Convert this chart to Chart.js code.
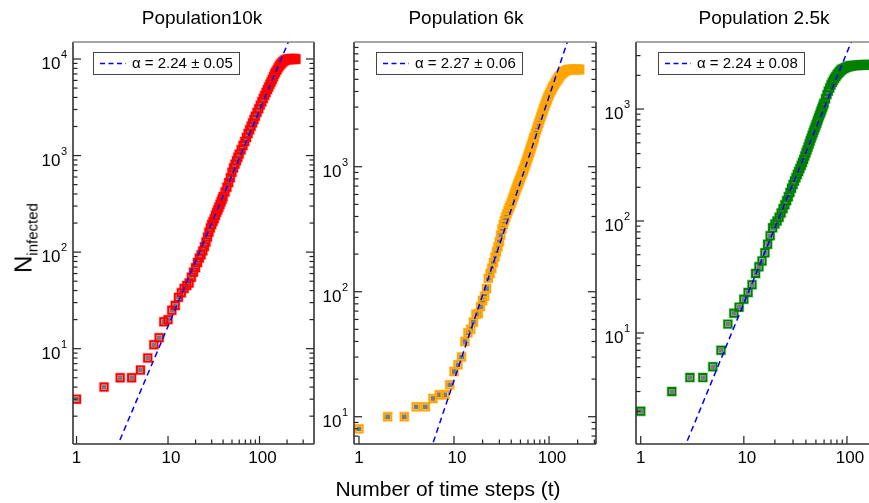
<!DOCTYPE html>
<html>
<head>
<meta charset="utf-8">
<script src="https://cdn.jsdelivr.net/npm/chart.js@4.4.1/dist/chart.umd.min.js"></script>
<style>
  body { margin: 0; width: 869px; height: 503px; overflow: hidden; background: #fff; position: relative;
         font-family: "Liberation Sans", Arial, sans-serif; color: #000; }
  canvas { position: absolute; top: 0; }
  .ttl { position: absolute; top: 8px; font-size: 19px; line-height: 19px; white-space: nowrap; transform: translateX(-50%); }
  .xlab { position: absolute; top: 478px; left: 448px; font-size: 21px; line-height: 21px; white-space: nowrap; transform: translateX(-50%); }
  .ylab { position: absolute; left: 25px; top: 238px; font-size: 24px; white-space: nowrap;
          transform: translate(-50%, -50%) rotate(-90deg); }
  .ylab sub { font-size: 15px; vertical-align: -6px; }
</style>
</head>
<body>
<canvas id="c10k" width="330" height="503" style="left:0px"></canvas>
<canvas id="c6k" width="310" height="503" style="left:310px"></canvas>
<canvas id="c2k5" width="300" height="503" style="left:590px"></canvas>
<div class="ttl" style="left:202px">Population10k</div>
<div class="ttl" style="left:466px">Population 6k</div>
<div class="ttl" style="left:764px">Population 2.5k</div>
<div class="xlab">Number of time steps (t)</div>
<div class="ylab">N<sub>infected</sub></div>
<script>
// Population 10k
const t10k = [1,2,3,4,5,6,7,8,9,10,11,12,13,14,15,16,17,18,19,20,21,22,23,24,25,26,27,28,29,30,31,32,33,34,35,36,37,38,39,40,
  42,44,46,48,50,52,54,56,58,60,63,66,69,72,75,78,81,84,87,90,
  94,98,102,106,110,114,118,122,126,130,134,138,142,146,150,
  155,160,165,170,175,180,185,190,195,200,205,210,215,220,225,230,235,240,245,250];
const n10k = [3,4,5,5,6,8,11,13,19,20,25,28,34,38,42,45,48,55,62,69,78,87,94,103,114,127,143,161,178,193,207,222,240,258,275,292,312,332,354,376,
  420,470,525,590,670,745,815,885,960,1035,1150,1270,1400,1540,1690,1850,2010,2180,2360,2550,
  2800,3060,3330,3610,3900,4200,4500,4820,5140,5470,5800,6150,6550,6950,7300,
  7700,8100,8500,8820,9100,9350,9560,9720,9840,9910,9950,9975,9990,10000,10000,10000,10000,10000,10000,10000];
const fitT10k = [2.7, 210];
const fitN10k = [0.91, 15560];

// Population 6k
const t6k = [1,2,3,4,5,6,7,8,9,10,11,12,13,14,15,16,17,18,19,20,21,22,23,24,25,26,27,28,29,30,31,32,33,34,35,36,37,38,39,40,
  41,42,43,44,45,46,47,48,49,50,51,52,53,54,55,56,57,58,59,60,61,62,63,64,65,66,67,68,69,70,
  72,74,76,78,80,82,84,86,88,90,92,94,96,98,100,
  103,106,109,112,115,118,121,124,127,130,
  135,140,145,150,155,160,165,170,175,180,185,190,195,200,205,210];
const n6k = [8,10,10,12,12,14,15,15,18,23,26,30,40,47,50,57,66,67,76,85,92,106,128,140,154,171,190,209,229,251,284,318,345,370,395,420,445,468,490,512,
  540,568,597,627,658,690,720,750,780,812,845,880,915,950,988,1027,1067,1108,1150,1195,1240,1290,1340,1390,1445,1500,1555,1610,1670,1730,
  1850,1975,2100,2230,2360,2500,2640,2780,2920,3060,3200,3340,3480,3620,3760,
  3950,4130,4300,4460,4620,4770,4920,5060,5200,5330,
  5500,5650,5780,5870,5930,5970,5990,6000,6000,6000,6000,6000,6000,6000,6000,6000];
const fitT6k = [5.6, 165];
const fitN6k = [5.24, 11330];

// Population 2.5k
const t2k5 = [1,2,3,4,5,6,7,8,9,10,11,12,13,14,15,16,17,18,19,20,21,22,23,24,25,26,27,28,29,30,31,32,33,34,35,36,37,38,39,40,
  41,42,43,44,45,46,47,48,49,50,51,52,53,54,55,56,57,58,59,60,
  62,64,66,68,70,72,74,76,78,80,82,84,86,88,90,
  93,96,99,102,105,108,111,114,
  120,125,130,135,140,145,150,155,160,165,170,175,180,185,190,195,200];
const n2k5 = [2,3,4,4,5,7,12,15,17,20,23,27,34,39,44,52,62,74,87,94,100,108,118,129,140,152,165,180,196,212,228,244,260,277,295,313,333,355,380,405,
  430,458,487,518,550,582,615,648,682,716,752,790,830,870,910,950,995,1040,1085,1130,
  1235,1345,1445,1545,1640,1730,1810,1880,1950,2020,2080,2135,2185,2230,2265,
  2300,2335,2365,2390,2410,2425,2435,2445,
  2455,2462,2468,2472,2475,2478,2480,2480,2480,2480,2480,2480,2480,2480,2480,2480,2480];
const fitT2k5 = [2.6, 115];
const fitN2k5 = [0.90, 4373];

const fitLabels = ['α = 2.24 ± 0.05', 'α = 2.27 ± 0.06', 'α = 2.24 ± 0.08'];
const xMajor = [1, 10, 100];
const xMinor = [20, 30, 40, 50, 60, 70, 80, 90, 200, 300];
const yMajor = [1, 10, 100, 1000, 10000];

const FONT = '"Liberation Sans", Arial, sans-serif';

// frame, inward ticks, 10^n labels and the fit legend box
const axesFrame = {
  id: 'axesFrame',
  afterDatasetsDraw(chart, args, o) {
    const ctx = chart.ctx, a = chart.chartArea, x = chart.scales.x, y = chart.scales.y;
    ctx.save();
    ctx.strokeStyle = '#222';
    ctx.lineWidth = 1.2;
    const hline = (x0, x1, py) => { ctx.beginPath(); ctx.moveTo(x0, py); ctx.lineTo(x1, py); ctx.stroke(); };
    const vline = (px, y0, y1) => { ctx.beginPath(); ctx.moveTo(px, y0); ctx.lineTo(px, y1); ctx.stroke(); };

    yMajor.forEach(d => {
      for (let k = 1; k <= 9; k++) {
        const v = k * d;
        if (v < y.min || v > y.max) continue;
        const py = y.getPixelForValue(v);
        const len = k === 1 ? 8 : 4.5;
        hline(a.left, a.left + len, py);
        hline(a.right - len, a.right, py);
      }
    });
    xMajor.forEach(v => {
      if (v < x.min || v > x.max) return;
      vline(x.getPixelForValue(v), a.bottom, a.bottom - 8);
    });
    xMinor.forEach(v => {
      if (v < x.min || v > x.max) return;
      vline(x.getPixelForValue(v), a.bottom, a.bottom - 4.5);
    });

    // box
    ctx.lineWidth = 1.6;
    ctx.strokeStyle = '#333';
    vline(a.left, a.top, a.bottom);
    vline(a.right, a.top, a.bottom);
    hline(a.left, a.right, a.bottom);
    ctx.strokeStyle = '#888';
    hline(a.left, a.right, a.top);

    // tick labels
    ctx.fillStyle = '#000';
    ctx.textBaseline = 'alphabetic';
    ctx.font = '17px ' + FONT;
    ctx.textAlign = 'center';
    xMajor.forEach(v => {
      if (v < x.min || v > x.max) return;
      ctx.fillText(String(v), x.getPixelForValue(v) + (v >= 10 ? 3 : 0), a.bottom + 19);
    });
    yMajor.forEach((v, n) => {
      if (v < y.min || v > y.max) return;
      if (n === 0) return;
      const py = y.getPixelForValue(v);
      ctx.font = '11px ' + FONT;
      ctx.textAlign = 'right';
      const e = String(n);
      const ew = ctx.measureText(e).width;
      const xr = a.left - 6;
      ctx.fillText(e, xr, py - 1);
      ctx.font = '17px ' + FONT;
      ctx.fillText('10', xr - ew - 0.5, py + 10);
    });

    // legend
    const lx = a.left + o.legendDx, ly = a.top + 10, lw = 146, lh = 22;
    ctx.fillStyle = '#fff';
    ctx.fillRect(lx, ly, lw, lh);
    ctx.lineWidth = 1;
    ctx.strokeStyle = '#444';
    ctx.strokeRect(lx + 0.5, ly + 0.5, lw, lh);
    ctx.strokeStyle = '#0000ff';
    ctx.lineWidth = 1.5;
    ctx.setLineDash([5, 3.5]);
    hline(lx + 7, lx + 33, ly + 11.5);
    ctx.setLineDash([]);
    ctx.fillStyle = '#000';
    ctx.font = '15px ' + FONT;
    ctx.textAlign = 'left';
    ctx.textBaseline = 'middle';
    ctx.fillText(o.label, lx + 39, ly + 12);
    ctx.restore();
  }
};

function pts(ts, ns) { return ts.map((t, i) => ({ x: t, y: ns[i] })); }

function panel(id, ts, ns, fitT, fitN, color, halo, label, xr, yr, pad, legendDx) {
  return new Chart(document.getElementById(id), {
    type: 'scatter',
    data: {
      datasets: [
        { data: pts(fitT, fitN), showLine: true, borderColor: '#0000ff', borderWidth: 1.5,
          borderDash: [6, 4], pointRadius: 0, fill: false },
        { data: pts(ts, ns), pointStyle: 'rect', pointRadius: 5, borderWidth: 1.9,
          borderColor: color, backgroundColor: 'rgba(0,0,0,0)' },
        { data: pts(ts, ns), pointStyle: 'rect', pointRadius: 3.4, borderWidth: 0,
          backgroundColor: '#7a7a7a' },
        { data: pts(ts, ns), pointStyle: 'rect', pointRadius: 6.2, borderWidth: 1.6,
          borderColor: halo, backgroundColor: 'rgba(0,0,0,0)' }
      ]
    },
    options: {
      responsive: false,
      animation: false,
      events: [],
      layout: { padding: pad },
      plugins: {
        legend: { display: false },
        tooltip: { enabled: false },
        axesFrame: { label: label, legendDx: legendDx }
      },
      scales: {
        x: { type: 'logarithmic', min: xr[0], max: xr[1], display: false },
        y: { type: 'logarithmic', min: yr[0], max: yr[1], display: false }
      }
    },
    plugins: [axesFrame]
  });
}

panel('c10k', t10k, n10k, fitT10k, fitN10k, '#ff0000', 'rgba(255,0,0,0.3)', fitLabels[0], [0.915, 394], [1.03, 15000],
  { left: 73, top: 42, right: 16, bottom: 59 }, 20);
panel('c6k', t6k, n6k, fitT6k, fitN6k, '#ffa500', 'rgba(255,165,0,0.35)', fitLabels[1], [0.886, 312], [6.05, 9950],
  { left: 44, top: 42, right: 24, bottom: 59 }, 22);
panel('c2k5', t2k5, n2k5, fitT2k5, fitN2k5, '#008000', 'rgba(0,128,0,0.3)', fitLabels[2], [0.9, 200], [1.02, 3970],
  { left: 46, top: 42, right: 12, bottom: 59 }, 22);
</script>
</body>
</html>
